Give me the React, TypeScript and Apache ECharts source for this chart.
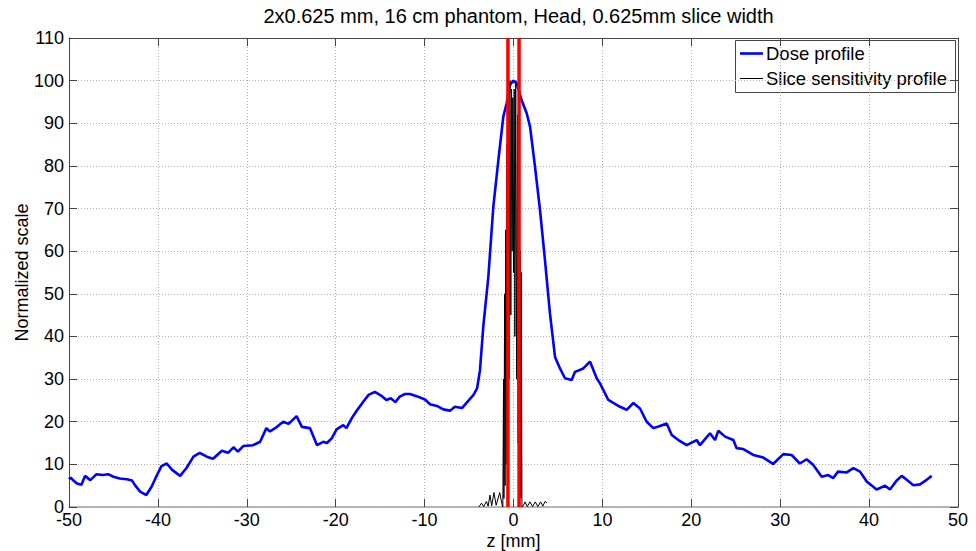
import React, { useEffect, useRef } from "react";
import * as echarts from "echarts";

const TITLE = "2x0.625 mm, 16 cm phantom, Head, 0.625mm slice width";
const X_NAME = "z [mm]";
const Y_NAME = "Normalized scale";
const LEGEND_NAMES = ["Dose profile", "Slice sensitivity profile"];

// Dose profile [z (mm), normalized value]
const doseProfile: [number, number][] = [
  [-50, 6.5], [-49.8, 6.9], [-49.5, 6.2], [-49.1, 5.5], [-48.6, 5.2], [-48.2, 7.3], [-47.6, 6.3],
  [-46.9, 7.7], [-46.2, 7.5], [-45.6, 7.7], [-45, 7.1], [-44.3, 6.7], [-43.5, 6.5], [-42.9, 6.2],
  [-42.6, 5.2], [-42.0, 3.6], [-41.3, 2.8], [-40.7, 4.8], [-40.1, 7.5], [-39.6, 9.6], [-39.0, 10.2],
  [-38.4, 8.7], [-37.5, 7.3], [-36.8, 9.1], [-36.0, 11.8], [-35.3, 12.7], [-34.5, 11.8], [-33.8, 11.3],
  [-32.8, 13.2], [-32.1, 12.7], [-31.5, 14.0], [-31.0, 13.0], [-30.4, 14.3], [-29.3, 14.5], [-28.5, 15.3],
  [-27.8, 18.5], [-27.4, 17.7], [-26.6, 18.8], [-25.9, 20.0], [-25.3, 19.5], [-24.4, 21.3], [-23.8, 18.8],
  [-22.9, 18.5], [-22.1, 14.5], [-21.4, 15.3], [-21.0, 15.0], [-20.45, 16.1], [-19.9, 18.2], [-19.15, 19.2],
  [-18.8, 18.5], [-18.2, 20.8], [-17.6, 22.7], [-16.9, 24.7], [-16.3, 26.3], [-15.6, 27.0], [-14.8, 26.0],
  [-14.3, 25.1], [-13.8, 25.5], [-13.3, 24.6], [-12.8, 25.9], [-12.2, 26.5], [-11.65, 26.5], [-10.9, 26.0],
  [-9.95, 25.2], [-9.39, 24.1], [-8.6, 23.7], [-7.9, 22.9], [-7.14, 22.6], [-6.6, 23.5], [-5.8, 23.2],
  [-5.26, 24.5], [-4.5, 26.3], [-4.1, 27.8], [-3.77, 32.1], [-3.4, 42.3], [-2.83, 54], [-2.27, 70.4],
  [-1.7, 81.4], [-1.15, 91.5], [-0.77, 94.7], [-0.39, 99], [-0.05, 100], [0.36, 99.4], [0.92, 95.4],
  [1.49, 92.3], [1.86, 89.2], [2.42, 79.8], [2.98, 69.7], [3.54, 57.9], [4.1, 45.4], [4.67, 35.2],
  [5.23, 32.5], [5.79, 30.2], [6.54, 29.8], [6.92, 31.7], [7.85, 32.5], [8.6, 34.1], [9.36, 30.2],
  [9.73, 29.0], [10.67, 25.1], [11.23, 24.4], [11.98, 23.5], [12.73, 22.8], [13.48, 24.4], [14.23, 23.1],
  [14.98, 20.0], [15.73, 18.5], [16.48, 19.0], [17.23, 19.6], [17.8, 16.9], [18.55, 15.7], [19.48, 14.5],
  [20.61, 15.7], [20.98, 14.5], [22.1, 17.3], [22.67, 15.7], [23.04, 17.9], [23.8, 16.5], [24.73, 15.7],
  [25.1, 13.8], [25.85, 13.6], [26.97, 12.2], [28.1, 11.6], [29.2, 10.1], [30.35, 12.4], [31.29, 12.2],
  [32.2, 10.2], [32.98, 11.2], [33.7, 9.9], [34.67, 7.1], [35.4, 7.5], [35.97, 6.8], [36.5, 8.3],
  [37.48, 8.1], [38.23, 9.1], [38.98, 8.3], [39.73, 6.0], [40.85, 4.1], [41.8, 5.0], [42.35, 4.1],
  [43.1, 6.2], [43.67, 7.3], [44.23, 6.4], [44.98, 5.1], [45.73, 5.3], [46.48, 6.4], [47.04, 7.3],
];

// Slice sensitivity profile [z (mm), normalized value] (dense, noisy strokes in the core)
const sliceSensitivity: [number, number][] = [
  [-3.9, 0], [-3.6, 0.9], [-3.35, 0.1], [-3.05, 1.3], [-2.85, 0.2], [-2.65, 2.8], [-2.45, 0.3],
  [-2.2, 3.4], [-1.95, 0.4], [-1.55, 3.4], [-1.25, 0.2], [-1.2, 0],
  [-1.12, 30], [-1.08, 2], [-1.0, 50], [-0.95, 5], [-0.88, 65], [-0.82, 10], [-0.75, 85], [-0.68, 20],
  [-0.6, 95], [-0.5, 30], [-0.4, 100], [-0.3, 45], [-0.22, 98], [-0.15, 60], [-0.08, 96], [0.0, 55],
  [0.08, 98], [0.15, 40], [0.25, 100], [0.35, 30], [0.45, 92], [0.52, 15], [0.6, 80], [0.67, 5],
  [0.75, 60], [0.82, 2], [0.88, 55], [0.95, 0],
  [1.1, 0.3], [1.3, 1.2], [1.55, 0.1], [1.85, 1.2], [2.15, 0.1], [2.45, 1.2], [2.75, 0.1],
  [3.05, 1.2], [3.3, 0.2], [3.55, 1.3], [3.75, 1.0],
];

// Slice boundaries (mm)
const sliceEdges = [-0.625, 0.625];

const X_MIN = -50, X_MAX = 50, X_STEP = 10;
const Y_MIN = 0, Y_MAX = 110, Y_STEP = 10;

const FONT = "'Liberation Sans', Arial, Helvetica, sans-serif";

export default function App() {
  const ref = useRef<HTMLDivElement>(null);
  useEffect(() => {
    if (!ref.current) return;
    const chart = echarts.init(ref.current, undefined, { renderer: "svg" });
    const gridL = 69, gridR = 18, gridT = 38, gridB = 44;
    const dotted = { type: [1, 2], color: "#b0b0b0", width: 1 };
    const edgeSeries = sliceEdges.map((z) => ({
      type: "line",
      data: [[z, Y_MIN], [z, Y_MAX]],
      showSymbol: false,
      silent: true,
      z: 5,
      lineStyle: { color: "#ff0000", width: 3.5 },
    }));
    chart.setOption({
      animation: false,
      backgroundColor: "#ffffff",
      textStyle: { fontFamily: FONT },
      title: {
        text: TITLE,
        left: gridL + (976 - gridL - gridR) / 2,
        textAlign: "center",
        top: 1,
        textStyle: { fontFamily: FONT, fontSize: 20, fontWeight: "normal", color: "#000" },
      },
      grid: {
        left: gridL, right: gridR, top: gridT, bottom: gridB,
        containLabel: false, outerBoundsMode: "none",
      },
      xAxis: [
        {
          type: "value", min: X_MIN, max: X_MAX, interval: X_STEP,
          name: X_NAME, nameLocation: "middle", nameGap: 25, nameMoveOverlap: false,
          nameTextStyle: { fontFamily: FONT, fontSize: 18, color: "#000" },
          axisLine: { show: true, onZero: false, lineStyle: { color: "#a0a0a0", width: 1.5 } },
          axisTick: { show: true, inside: true, length: 8, lineStyle: { color: "#444" } },
          axisLabel: { fontFamily: FONT, fontSize: 18, color: "#000", margin: 4 },
          splitLine: { show: true, lineStyle: dotted },
        },
        {
          type: "value", min: X_MIN, max: X_MAX, interval: X_STEP, position: "top",
          axisLine: { show: true, onZero: false, lineStyle: { color: "#444", width: 1 } },
          axisTick: { show: true, inside: true, length: 8, lineStyle: { color: "#444" } },
          axisLabel: { show: false },
          splitLine: { show: false },
        },
      ],
      yAxis: [
        {
          type: "value", min: Y_MIN, max: Y_MAX, interval: Y_STEP,
          name: Y_NAME, nameLocation: "middle", nameGap: 38, nameMoveOverlap: false,
          nameTextStyle: { fontFamily: FONT, fontSize: 18, color: "#000" },
          axisLine: { show: true, onZero: false, lineStyle: { color: "#444", width: 1 } },
          axisTick: { show: true, inside: true, length: 8, lineStyle: { color: "#444" } },
          axisLabel: { fontFamily: FONT, fontSize: 18, color: "#000", margin: 5 },
          splitLine: { show: true, lineStyle: dotted },
        },
        {
          type: "value", min: Y_MIN, max: Y_MAX, interval: Y_STEP, position: "right",
          axisLine: { show: true, onZero: false, lineStyle: { color: "#444", width: 1 } },
          axisTick: { show: true, inside: true, length: 8, lineStyle: { color: "#444" } },
          axisLabel: { show: false },
          splitLine: { show: false },
        },
      ],
      series: [
        {
          name: LEGEND_NAMES[0], type: "line", data: doseProfile, showSymbol: false, z: 3,
          lineStyle: { color: "#0000ff", width: 2.6 },
        },
        {
          name: LEGEND_NAMES[1], type: "line", data: sliceSensitivity, showSymbol: false, z: 4,
          lineStyle: { color: "#000000", width: 1 },
        },
        ...edgeSeries,
      ],
      graphic: [
        {
          type: "group", left: 735, top: 40, z: 100,
          children: [
            { type: "rect", shape: { x: 0.5, y: 0.5, width: 220, height: 52 }, style: { fill: "#fff", stroke: "#444", lineWidth: 1 } },
            { type: "line", shape: { x1: 5, y1: 13.5, x2: 28, y2: 13.5 }, style: { stroke: "#0000ff", lineWidth: 2.6 } },
            { type: "line", shape: { x1: 5, y1: 38.5, x2: 28, y2: 38.5 }, style: { stroke: "#000", lineWidth: 1 } },
            { type: "text", x: 31, y: 13.5, style: { text: LEGEND_NAMES[0], fontFamily: FONT, fontSize: 18.5, fill: "#000", verticalAlign: "middle" } },
            { type: "text", x: 31, y: 38.5, style: { text: LEGEND_NAMES[1], fontFamily: FONT, fontSize: 18.5, fill: "#000", verticalAlign: "middle" } },
          ],
        },
      ],
    });
    return () => chart.dispose();
  }, []);
  return <div ref={ref} style={{ position: "fixed", left: 0, top: 0, width: 976, height: 551 }} />;
}
